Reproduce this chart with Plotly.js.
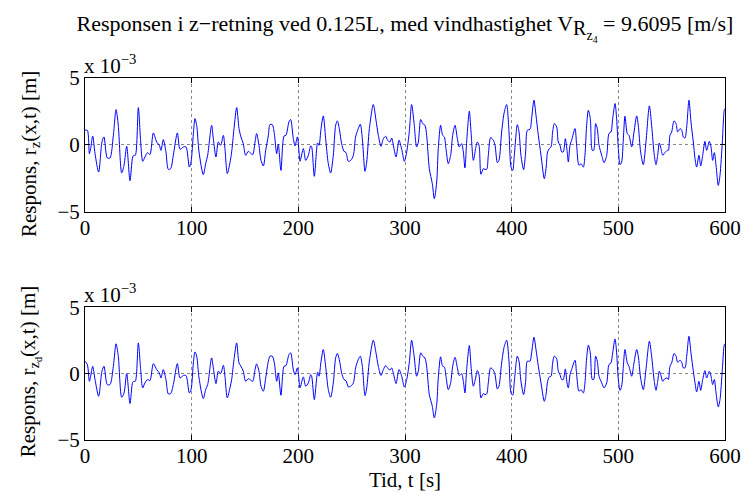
<!DOCTYPE html>
<html>
<head>
<meta charset="utf-8">
<script src="https://cdn.plot.ly/plotly-3.0.1.min.js"></script>
<style>html,body{margin:0;padding:0;background:#fff;}#chart{width:745px;height:492px;}</style>
</head>
<body>
<div id="chart"></div>
<script>
// Time [s]
const time = [
 0,2.2,4.1,5.3,7.2,9.4,12.8,15.9,17.8,20.9,23.4,26.6,29.1,31.2,34.4,36.6,39.1,42.2,44.7,45.9,47.2,50,52.2,54.1,56.2,58.7,60.9,64.1,67.2,69.7,71.2,73.4,75.9,78.1,80.3,82.8,86.6,89.1,92.2,94.7,97.8,
 99.4,101.6,103.1,104.7,106.9,110.9,113.1,115.0,118.7,120.3,122.8,125.0,127.2,129.7,131.2,133.4,135.9,137.5,139.7,142.2,144.4,146.2,148.4,150.6,153.1,154.7,157.2,159.4,160.9,163.1,165.0,167.2,169.4,171.9,173.4,175.6,177.5,179.7,181.2,183.7,186.6,188.4,191.2,192.8,195.3,196.9,199.1,200.9,
 201.6,204.7,206.9,209.4,211.6,212.5,215.0,218.1,219.4,221.3,223.4,225.6,228.1,230.3,232.8,235.0,236.6,238.4,240.6,242.8,244.7,246.9,249.1,251.6,253.7,256.2,258.1,260.0,262.5,264.1,266.6,270.3,272.8,275.0,277.5,279.7,281.9,283.7,285.9,287.5,289.4,291.6,294.4,296.9,299.4,
 301.6,304.0,306.2,308.4,310.9,312.5,314.7,316.6,318.7,320.3,322.8,325.6,327.5,329.7,331.2,333.4,335.3,336.9,338.4,340.6,342.8,344.7,346.9,349.1,350.9,353.1,354.7,356.2,357.8,360.3,361.9,364.1,366.2,367.8,369.4,371.2,373.4,375.0,376.6,378.1,380.3,382.8,384.4,386.6,388.1,390.6,393.1,395.3,397.5,399.4,401.0,402.5,
 405.3,406.9,408.7,411.2,413.1,414.7,417.2,418.7,420.9,422.8,425.0,427.5,430.6,432.2,433.7,435.3,436.9,438.4,440.0,442.2,443.7,445.3,446.9,448.4,450.3,451.9,453.1,454.7,456.2,459.4,460.9,463.1,465.0,467.2,468.7,470.3,471.9,473.7,475.6,476.9,478.7,480.3,481.9,484.4,486.6,489.1,491.2,493.1,494.7,496.9,498.4,500.0,
 501.6,503.1,504.7,506.2,508.4,510.0,512.5,514.7,517.2,518.7,520.9,523.4,525.9,529.1,531.2,533.7,535.3,536.9,538.4,540.0,541.6,543.7,545.9,546.9,548.4,550.0,552.2,554.1,555.6,557.8,559.4,560.9,562.5,564.1,566.2,568.1,570.3,571.9,573.4,575.6,577.2,579.1,581.2,582.8,585.3,586.9,588.4,590.0,591.6,593.7,595.3,597.5,599.4,600
];
// r_z(x,t) in units of 1e-3 m
const rz = [
 1.10,1.10,-0.65,-0.27,0.67,-0.65,-2.02,0.22,0.60,-0.97,-0.97,0.72,2.64,1.47,-2.09,-1.52,-0.10,-2.67,-0.90,-0.77,-0.77,2.79,0.22,-1.22,-0.90,-0.57,-0.72,0.90,0.22,-0.02,-0.40,0.40,-0.52,-1.82,-1.77,-0.77,0.90,-0.32,-0.15,-0.15,-1.65,
 -1.27,0.85,1.97,1.47,-0.52,-2.22,-1.40,-0.77,1.47,0.47,-0.90,0.22,-0.02,0.72,-0.27,-2.14,-1.32,-0.52,1.22,2.79,1.22,0.60,0.10,-0.77,-0.47,-0.57,-0.72,0.22,0.85,-0.02,-1.15,-1.57,-0.40,0.72,1.52,1.52,0.85,-0.65,0.05,-1.90,0.67,0.72,1.72,1.90,0.47,-0.07,0.60,-0.77,
 -1.22,-0.27,-1.15,-0.77,-0.07,-0.15,-2.34,0.15,-0.02,1.22,2.17,0.47,-1.40,-2.09,-0.77,1.47,1.80,1.22,0.10,-0.47,-0.57,-1.22,-1.15,-0.77,0.60,1.22,1.55,0.47,-1.97,-1.27,1.22,3.02,1.85,0.72,-0.10,0.47,0.65,0.35,0.22,0.52,-0.15,-0.90,0.35,-0.32,-1.22,
 -0.52,0.97,3.02,1.72,-0.15,0.22,1.90,1.60,1.47,0.72,-1.77,-2.89,-4.01,-2.77,-0.27,1.47,0.72,0.60,-0.27,-1.40,-0.77,0.72,1.47,0.47,-0.15,0.10,-0.52,-1.72,0.22,2.52,0.97,-1.15,-0.27,0.22,-0.02,-2.19,-1.77,-1.82,-1.82,-0.77,0.55,0.35,-0.02,-1.32,-1.15,0.97,2.47,3.02,0.97,-1.65,-1.90,-0.77,
 1.52,0.97,-0.77,-1.85,-0.52,1.10,1.17,1.97,3.34,2.22,0.72,-0.77,-2.52,-1.77,-0.52,-0.27,-0.15,0.97,1.60,1.35,0.22,-0.02,-0.52,-0.52,0.47,-0.40,-1.27,-0.02,0.35,1.22,-0.02,-1.52,-1.40,-1.65,-0.77,1.47,2.59,1.97,-0.40,-0.40,1.60,1.22,-0.02,-0.77,-1.32,-0.77,0.85,0.97,1.97,3.09,1.97,-0.27,
 -1.47,-1.27,0.47,2.14,0.85,0.72,-0.15,0.97,2.17,1.47,-0.52,-1.47,0.22,2.92,1.47,-0.77,-1.47,-0.77,0.15,-0.27,-0.77,-0.57,-0.40,-0.40,0.72,0.97,1.80,1.60,0.97,1.22,1.10,0.60,0.52,1.35,3.34,1.72,0.22,-1.02,-1.65,-0.77,-1.57,-0.77,0.27,-0.40,0.27,-0.15,-1.15,-0.57,-1.52,-3.02,-2.27,0.22,2.64,2.72
];
// r_zd(x,t) in units of 1e-3 m
const rzd = [
 0.93,0.68,-0.58,-0.20,0.55,-0.45,-1.71,0.18,0.55,-0.83,-0.83,0.55,2.24,1.31,-1.78,-1.46,0,-2.26,-0.65,-0.58,-0.58,2.31,0.30,-1.08,-0.70,-0.45,-0.53,0.75,0.30,0.05,-0.33,0.30,-0.45,-1.53,-1.51,-0.83,0.75,-0.33,-0.15,-0.15,-1.46,
 -1.21,0.80,1.63,1.31,-0.33,-1.88,-1.21,-0.83,1.18,0.43,-0.75,0.18,0,0.63,-0.20,-1.83,-1.08,-0.45,1.06,2.31,0.80,0.55,0.18,-0.58,-0.38,-0.45,-0.58,0.30,0.73,0.18,-0.95,-1.33,-0.33,0.93,1.31,1.31,0.80,-0.58,0.05,-1.63,0.55,0.60,1.43,1.56,0.30,-0.08,0.43,-0.70,
 -1.08,-0.25,-0.95,-0.70,-0.08,-0.20,-1.96,0.10,-0.20,0.93,1.81,0.55,-1.21,-1.78,-0.70,1.18,1.51,1.06,0.05,-0.45,-0.53,-1.01,-0.95,-0.70,0.43,1.06,1.31,0.55,-1.66,-1.08,0.93,2.51,1.56,0.55,-0.15,0.30,0.60,0.43,0.25,0.43,-0.08,-0.75,0.30,-0.20,-1.01,
 -0.45,0.80,2.51,1.43,-0.20,0.18,1.56,1.31,1.18,0.55,-1.58,-2.46,-3.34,-2.34,-0.33,1.26,0.55,0.50,-0.20,-1.21,-0.70,0.55,1.23,0.43,-0.15,0,-0.58,-1.46,0.30,2.11,0.55,-0.95,-0.33,0.23,-0.08,-1.83,-1.51,-1.58,-1.53,-0.70,0.43,0.25,-0.08,-1.16,-0.95,0.80,2.06,2.51,0.93,-1.46,-1.63,-0.58,
 1.31,0.93,-0.58,-1.58,-0.58,0.93,0.93,1.56,2.74,1.81,0.55,-0.70,-2.09,-1.58,-0.58,-0.25,-0.20,0.80,1.31,1.11,0.18,-0.08,-0.45,-0.45,0.35,-0.70,-1.08,-0.08,0.30,1.01,-0.08,-1.33,-1.21,-1.46,-0.70,1.18,2.14,1.56,-0.45,-0.45,1.31,0.93,-0.20,-0.70,-1.08,-0.70,0.68,0.80,1.56,2.61,1.56,-0.45,
 -1.26,-0.95,0.55,1.81,0.80,0.55,-0.20,0.80,1.81,1.31,-0.33,-1.21,0.30,2.44,1.31,-0.58,-1.26,-0.58,0.18,-0.15,-0.58,-0.38,-0.33,-0.45,0.55,0.80,1.51,1.31,0.85,1.01,0.85,0.43,0.43,1.31,2.81,1.56,0.18,-0.70,-1.38,-0.58,-1.26,-0.45,0.23,-0.33,0.18,-0.20,-0.83,-0.45,-1.46,-2.51,-1.96,0.30,2.19,2.25
];
const xTicks = [0,100,200,300,400,500,600];
const yTicks = [-5,0,5];
const yTickText = ['\u22125','0','5'];

if (time.length !== rz.length || time.length !== rzd.length) {
  throw new Error('length mismatch ' + time.length + ' ' + rz.length + ' ' + rzd.length);
}

const FONT = 'Liberation Serif, Times New Roman, serif';
const FS = 21;
const lineStyle = {color:'#0000ff', width:1, shape:'spline', smoothing:0.8};

const traces = [
  {x: time, y: rz, type:'scatter', mode:'lines', line: lineStyle, xaxis:'x', yaxis:'y', hoverinfo:'skip'},
  {x: time, y: rzd, type:'scatter', mode:'lines', line: lineStyle, xaxis:'x2', yaxis:'y2', hoverinfo:'skip'}
];

function xAxis(anchor, extra) {
  return Object.assign({
    anchor: anchor, domain:[0,1], range:[0,600], tickvals: xTicks, ticktext: xTicks.map(String),
    showline:true, linecolor:'#000', linewidth:1, mirror:'ticks', ticks:'inside', ticklen:5, tickcolor:'#000',
    showgrid:true, gridcolor:'#888', griddash:'dot', gridwidth:1, zeroline:false,
    ticklabelstandoff:-3,
    tickfont:{family:FONT, size:FS, color:'#000'}
  }, extra || {});
}
function yAxis(anchor, domain) {
  return {
    anchor: anchor, domain: domain, range:[-5,5], tickvals: yTicks, ticktext: yTickText,
    showline:true, linecolor:'#000', linewidth:1, mirror:'ticks', ticks:'inside', ticklen:5, tickcolor:'#000',
    showgrid:true, gridcolor:'#888', griddash:'dot', gridwidth:1, zeroline:false,
    tickfont:{family:FONT, size:FS, color:'#000'}
  };
}

const layout = {
  width:745, height:492,
  paper_bgcolor:'#fff', plot_bgcolor:'#fff',
  margin:{l:85, r:20, t:78, b:52},
  showlegend:false,
  font:{family:FONT, size:FS, color:'#000'},
  title:{
    text:'Responsen i z\u2212retning ved 0.125L, med vindhastighet V<sub><span style="font-size:20px">R<sub>z<sub>4</sub></sub></span></sub> = 9.6095 [m/s]',
    font:{family:FONT, size:22, color:'#000'},
    x:0.5, xref:'paper', xanchor:'center', y:0.953, yref:'container', yanchor:'middle'
  },
  xaxis: xAxis('y'),
  yaxis: yAxis('x', [0.63,1]),
  xaxis2: xAxis('y2', {title:{text:'Tid, t [s]', font:{family:FONT, size:FS, color:'#000'}, standoff:0}}),
  yaxis2: yAxis('x2', [0,0.367]),
  annotations:[
    {text:'x 10<sup>\u22123</sup>', xref:'paper', yref:'paper', x:0, y:1, xanchor:'left', yanchor:'bottom', showarrow:false, font:{family:FONT,size:FS,color:'#000'}, xshift:-3, yshift:-2},
    {text:'x 10<sup>\u22123</sup>', xref:'paper', yref:'paper', x:0, y:0.367, xanchor:'left', yanchor:'bottom', showarrow:false, font:{family:FONT,size:FS,color:'#000'}, xshift:-3, yshift:-2},
    {text:'Respons, r<sub>z</sub>(x,t) [m]', xref:'paper', yref:'paper', x:0, y:0.79, xanchor:'center', yanchor:'middle', xshift:-55, textangle:-90, showarrow:false, font:{family:FONT,size:FS,color:'#000'}},
    {text:'Respons, r<sub>z<sub>d</sub></sub>(x,t) [m]', xref:'paper', yref:'paper', x:0, y:0.19, xanchor:'center', yanchor:'middle', xshift:-55, textangle:-90, showarrow:false, font:{family:FONT,size:FS,color:'#000'}}
  ]
};

Plotly.newPlot('chart', traces, layout, {staticPlot:true, displayModeBar:false});
</script>
</body>
</html>
